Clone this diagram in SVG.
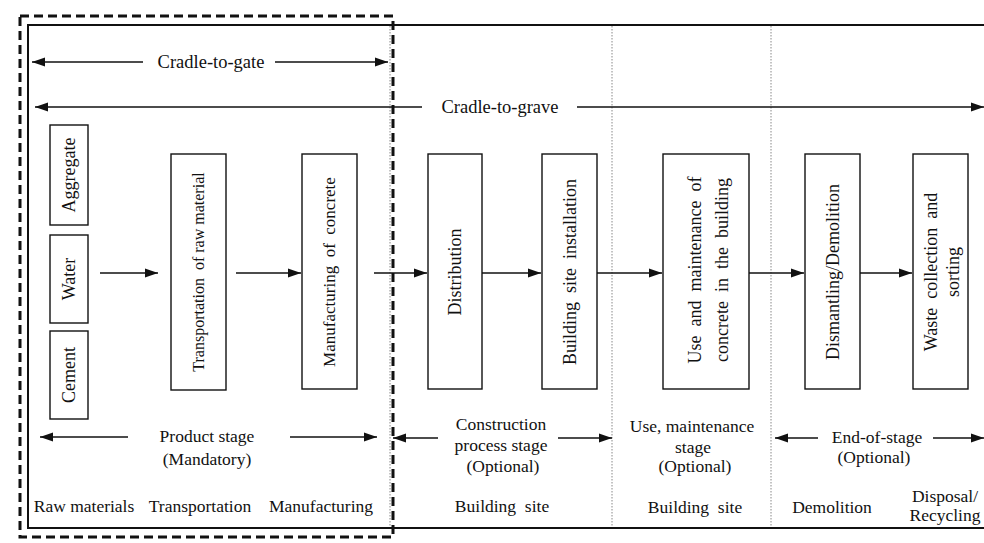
<svg xmlns="http://www.w3.org/2000/svg" width="984" height="543" viewBox="0 0 984 543">
<style>
text{font-family:"Liberation Serif","Times New Roman",serif;fill:#111;}
.box{fill:#fff;stroke:#111;stroke-width:1.4;}
.bt{font-size:18px;text-anchor:middle;}
.lb{font-size:17.5px;text-anchor:middle;}
.ct{font-size:18.5px;text-anchor:middle;}
.ln{stroke:#111;stroke-width:1.5;fill:none;}
.arr{marker-end:url(#ah);}
.st{marker-start:url(#ahs);}
.dot{stroke:#888;stroke-width:1;stroke-dasharray:1.5 1.5;}
</style>
<defs>
<marker id="ah" markerUnits="userSpaceOnUse" markerWidth="14" markerHeight="10" refX="13" refY="5" orient="auto"><path d="M0,0.5 L13,5 L0,9.5 Z" fill="#111"/></marker>
<marker id="ahs" markerUnits="userSpaceOnUse" markerWidth="14" markerHeight="10" refX="13" refY="5" orient="auto-start-reverse"><path d="M0,0.5 L13,5 L0,9.5 Z" fill="#111"/></marker>
</defs>
<rect width="984" height="543" fill="#fff"/>
<g id="frame">
<path d="M990,25 H28 V528 H990" fill="none" stroke="#111" stroke-width="2"/>
<line class="dot" x1="390" y1="26" x2="390" y2="527"/>
<line class="dot" x1="612" y1="26" x2="612" y2="527"/>
<line class="dot" x1="771" y1="26" x2="771" y2="527"/>
<rect x="20" y="16" width="373" height="521" fill="none" stroke="#111" stroke-width="3" stroke-dasharray="9 5"/>
</g>
<g id="connectors">
<line class="ln st" x1="32" y1="62" x2="143" y2="62"/>
<line class="ln arr" x1="275" y1="62" x2="388" y2="62"/>
<line class="ln st" x1="35" y1="107" x2="422" y2="107"/>
<line class="ln arr" x1="577" y1="107" x2="984" y2="107"/>
<line class="ln arr" x1="100" y1="273" x2="158" y2="273"/>
<line class="ln arr" x1="236" y1="273" x2="301" y2="273"/>
<line class="ln arr" x1="374" y1="273" x2="427" y2="273"/>
<line class="ln arr" x1="482" y1="273" x2="541" y2="273"/>
<line class="ln arr" x1="597" y1="273" x2="662" y2="273"/>
<line class="ln arr" x1="749" y1="273" x2="804" y2="273"/>
<line class="ln arr" x1="860" y1="273" x2="912" y2="273"/>
<line class="ln st" x1="40" y1="437" x2="128" y2="437"/>
<line class="ln arr" x1="290" y1="437" x2="377" y2="437"/>
<line class="ln st" x1="393" y1="438" x2="438" y2="438"/>
<line class="ln arr" x1="558" y1="438" x2="612" y2="438"/>
<line class="ln st" x1="775" y1="438" x2="818" y2="438"/>
<line class="ln arr" x1="933" y1="438" x2="984" y2="438"/>
</g>
<g id="n-aggregate"><rect class="box" x="50" y="125" width="38" height="100"/><text class="bt" transform="translate(69,175) rotate(-90)" dy="0.35em">Aggregate</text></g>
<g id="n-water"><rect class="box" x="50" y="235" width="38" height="88"/><text class="bt" transform="translate(69,279) rotate(-90)" dy="0.35em">Water</text></g>
<g id="n-cement"><rect class="box" x="50" y="331" width="38" height="88"/><text class="bt" transform="translate(69,375) rotate(-90)" dy="0.35em">Cement</text></g>
<g id="n-transport"><rect class="box" x="171" y="154" width="55" height="236"/><text class="bt" style="font-size:16px" transform="translate(198.5,272) rotate(-90)" dy="0.35em" xml:space="preserve">Transportation  of raw material</text></g>
<g id="n-manufacturing"><rect class="box" x="302" y="154" width="55" height="235"/><text class="bt" style="font-size:17px" transform="translate(329.5,272) rotate(-90)" dy="0.35em" xml:space="preserve">Manufacturing  of  concrete</text></g>
<g id="n-distribution"><rect class="box" x="428" y="154" width="54" height="235"/><text class="bt" transform="translate(455,272) rotate(-90)" dy="0.35em">Distribution</text></g>
<g id="n-installation"><rect class="box" x="542" y="154" width="55" height="235"/><text class="bt" transform="translate(569.5,272) rotate(-90)" dy="0.35em" xml:space="preserve">Building  site  installation</text></g>
<g id="n-use"><rect class="box" x="663" y="154" width="86" height="235"/><text class="bt" transform="translate(695,270) rotate(-90)" dy="0.35em" xml:space="preserve">Use  and  maintenance  of</text><text class="bt" transform="translate(722,270) rotate(-90)" dy="0.35em" xml:space="preserve">concrete  in  the  building</text></g>
<g id="n-dismantling"><rect class="box" x="805" y="154" width="55" height="235"/><text class="bt" transform="translate(832.5,272) rotate(-90)" dy="0.35em">Dismantling/Demolition</text></g>
<g id="n-waste"><rect class="box" x="913" y="154" width="55" height="235"/><text class="bt" transform="translate(931,272) rotate(-90)" dy="0.35em" xml:space="preserve">Waste  collection  and</text><text class="bt" transform="translate(953,272) rotate(-90)" dy="0.35em">sorting</text></g>
<g id="labels">
<text class="ct" x="211" y="68">Cradle-to-gate</text>
<text class="ct" x="500" y="113">Cradle-to-grave</text>
<text class="lb" x="207" y="442">Product stage</text>
<text class="lb" x="207" y="465">(Mandatory)</text>
<text class="lb" x="501" y="430">Construction</text>
<text class="lb" x="501" y="451">process stage</text>
<text class="lb" x="503" y="472">(Optional)</text>
<text class="lb" x="692" y="432">Use, maintenance</text>
<text class="lb" x="693" y="453">stage</text>
<text class="lb" x="695" y="472">(Optional)</text>
<text class="lb" x="877" y="443">End-of-stage</text>
<text class="lb" x="874" y="463">(Optional)</text>
<text class="lb" x="84" y="512">Raw materials</text>
<text class="lb" x="200" y="512">Transportation</text>
<text class="lb" x="321" y="512">Manufacturing</text>
<text class="lb" x="502" y="512" xml:space="preserve">Building  site</text>
<text class="lb" x="695" y="513" xml:space="preserve">Building  site</text>
<text class="lb" x="832" y="513">Demolition</text>
<text class="lb" x="945" y="502">Disposal/</text>
<text class="lb" x="945" y="521">Recycling</text>
</g>
</svg>
